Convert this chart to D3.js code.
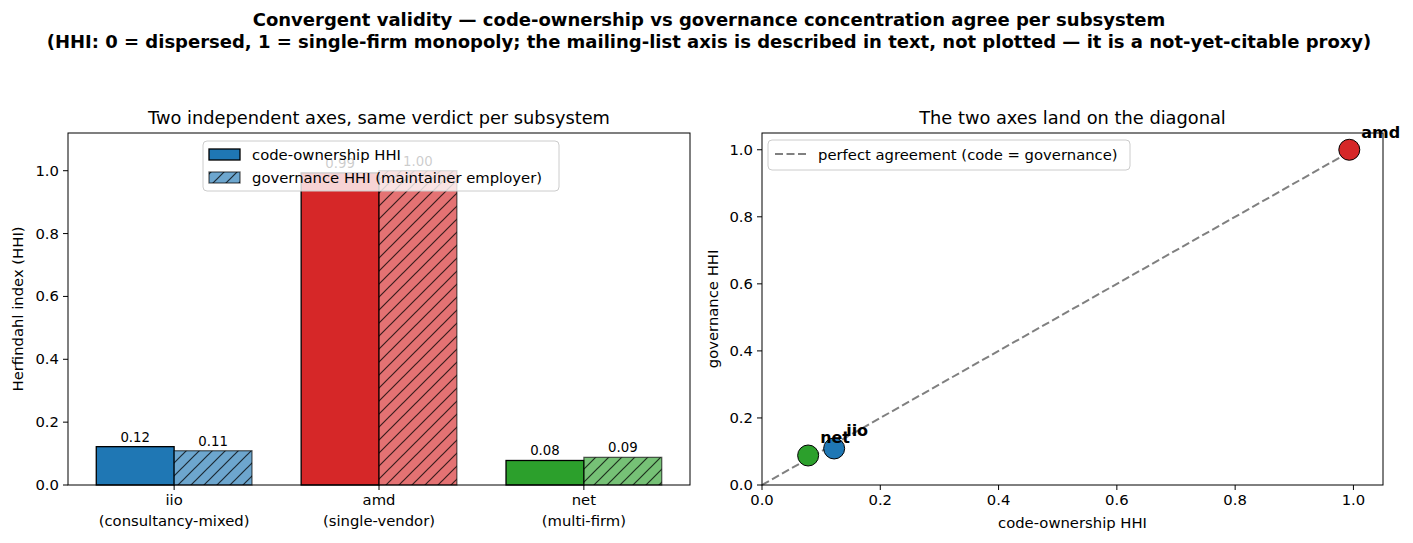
<!DOCTYPE html>
<html>
<head>
<meta charset="utf-8">
<script src="https://cdn.jsdelivr.net/npm/d3@7"></script>
<style>
  body { margin: 0; background: #fff; }
  svg text { font-family: "DejaVu Sans", sans-serif; fill: #000; }
</style>
</head>
<body>
<svg id="chart" width="1413" height="543"></svg>
<script>
// ---------------- DATA ----------------
const subsystems = ["iio", "amd", "net"];
const subsystemKinds = ["consultancy-mixed", "single-vendor", "multi-firm"];
const codeHHI = [0.122, 0.993, 0.078];
const govHHI = [0.109, 1.0, 0.088];
const subsystemColors = ["#1f77b4", "#d62728", "#2ca02c"];
const hhiTicks = [0, 0.2, 0.4, 0.6, 0.8, 1.0];

const svg = d3.select("#chart");
const fmt1 = d3.format(".1f");
const fmt2 = d3.format(".2f");
const TICK_FS = "14.8px";

// hatch patterns, one per colour
const defs = svg.append("defs");
subsystemColors.forEach((c, i) => {
  const p = defs.append("pattern")
    .attr("id", "hatch" + i)
    .attr("patternUnits", "userSpaceOnUse")
    .attr("width", 13).attr("height", 13);
  p.append("rect").attr("width", 13).attr("height", 13)
    .attr("fill", c).attr("fill-opacity", 0.65);
  p.append("path")
    .attr("d", "M-1,14 L14,-1 M-4,4 L4,-4 M9,17 L17,9")
    .attr("stroke", "#000").attr("stroke-opacity", 0.75).attr("stroke-width", 1.2);
});

// ---------------- TITLES ----------------
svg.append("text").attr("x", 709).attr("y", 26).attr("text-anchor", "middle")
  .style("font-size", "18px").style("font-weight", "bold")
  .text("Convergent validity \u2014 code-ownership vs governance concentration agree per subsystem");
svg.append("text").attr("x", 709).attr("y", 48).attr("text-anchor", "middle")
  .style("font-size", "18px").style("font-weight", "bold")
  .text("(HHI: 0 = dispersed, 1 = single-firm monopoly; the mailing-list axis is described in text, not plotted \u2014 it is a not-yet-citable proxy)");

// ---------------- LEFT: GROUPED BARS ----------------
const L = { left: 68, right: 690, top: 133, bottom: 485 };
const barW = 0.38;
const xBar = d3.scaleLinear().domain([-0.518, 2.518]).range([L.left, L.right]);
const yBar = d3.scaleLinear().domain([0, 1.12]).range([L.bottom, L.top]);

const gL = svg.append("g");
gL.append("text").attr("x", (L.left + L.right) / 2).attr("y", 124)
  .attr("text-anchor", "middle").style("font-size", "17.8px")
  .text("Two independent axes, same verdict per subsystem");

subsystems.forEach((s, i) => {
  // code-ownership bar
  gL.append("rect")
    .attr("x", xBar(i - barW)).attr("y", yBar(codeHHI[i]))
    .attr("width", xBar(barW) - xBar(0)).attr("height", yBar(0) - yBar(codeHHI[i]))
    .attr("fill", subsystemColors[i]).attr("stroke", "#000").attr("stroke-width", 1.3);
  // governance bar (hatched, lighter)
  gL.append("rect")
    .attr("x", xBar(i)).attr("y", yBar(govHHI[i]))
    .attr("width", xBar(barW) - xBar(0)).attr("height", yBar(0) - yBar(govHHI[i]))
    .attr("fill", `url(#hatch${i})`).attr("stroke", "#000").attr("stroke-opacity", 0.6).attr("stroke-width", 1.3);
  gL.append("text").attr("x", xBar(i - barW / 2)).attr("y", yBar(codeHHI[i]) - 5)
    .attr("text-anchor", "middle").style("font-size", "13.3px").text(fmt2(codeHHI[i]));
  gL.append("text").attr("x", xBar(i + barW / 2)).attr("y", yBar(govHHI[i]) - 5)
    .attr("text-anchor", "middle").style("font-size", "13.3px").text(fmt2(govHHI[i]));
});

// axes
const axL = gL.append("g");
axL.append("rect").attr("x", L.left).attr("y", L.top)
  .attr("width", L.right - L.left).attr("height", L.bottom - L.top)
  .attr("fill", "none").attr("stroke", "#000").attr("stroke-width", 1);
hhiTicks.forEach(t => {
  axL.append("line").attr("x1", L.left - 5).attr("x2", L.left)
    .attr("y1", yBar(t)).attr("y2", yBar(t)).attr("stroke", "#000");
  axL.append("text").attr("x", L.left - 9).attr("y", yBar(t) + 5)
    .attr("text-anchor", "end").style("font-size", TICK_FS).text(fmt1(t));
});
subsystems.forEach((s, i) => {
  axL.append("line").attr("x1", xBar(i)).attr("x2", xBar(i))
    .attr("y1", L.bottom).attr("y2", L.bottom + 5).attr("stroke", "#000");
  axL.append("text").attr("x", xBar(i)).attr("y", 505)
    .attr("text-anchor", "middle").style("font-size", TICK_FS).text(s);
  axL.append("text").attr("x", xBar(i)).attr("y", 526)
    .attr("text-anchor", "middle").style("font-size", TICK_FS).text(`(${subsystemKinds[i]})`);
});
axL.append("text").attr("transform", `translate(23,${(L.top + L.bottom) / 2}) rotate(-90)`)
  .attr("text-anchor", "middle").style("font-size", TICK_FS).text("Herfindahl index (HHI)");

// legend
const legL = gL.append("g").attr("transform", "translate(203,141)");
legL.append("rect").attr("width", 356).attr("height", 50).attr("rx", 4)
  .attr("fill", "#fff").attr("fill-opacity", 0.8).attr("stroke", "#cccccc");
legL.append("rect").attr("x", 6).attr("y", 8).attr("width", 31).attr("height", 11)
  .attr("fill", subsystemColors[0]).attr("stroke", "#000").attr("stroke-width", 1.3);
legL.append("text").attr("x", 49).attr("y", 18.5).style("font-size", TICK_FS).text("code-ownership HHI");
legL.append("rect").attr("x", 6).attr("y", 31).attr("width", 31).attr("height", 11)
  .attr("fill", "url(#hatch0)").attr("stroke", "#000").attr("stroke-opacity", 0.6).attr("stroke-width", 1.3);
legL.append("text").attr("x", 49).attr("y", 41.5).style("font-size", TICK_FS).text("governance HHI (maintainer employer)");

// ---------------- RIGHT: SCATTER ----------------
const R = { left: 762, right: 1383, top: 133, bottom: 485 };
const xS = d3.scaleLinear().domain([0, 1.05]).range([R.left, R.right]);
const yS = d3.scaleLinear().domain([0, 1.05]).range([R.bottom, R.top]);

const gR = svg.append("g");
gR.append("text").attr("x", (R.left + R.right) / 2).attr("y", 124)
  .attr("text-anchor", "middle").style("font-size", "17.8px")
  .text("The two axes land on the diagonal");

gR.append("line")
  .attr("x1", xS(0)).attr("y1", yS(0)).attr("x2", xS(1)).attr("y2", yS(1))
  .attr("stroke", "#808080").attr("stroke-width", 2).attr("stroke-dasharray", "8,3.5");

subsystems.forEach((s, i) => {
  gR.append("circle").attr("cx", xS(codeHHI[i])).attr("cy", yS(govHHI[i])).attr("r", 10.5)
    .attr("fill", subsystemColors[i]).attr("stroke", "#000").attr("stroke-width", 1);
});
subsystems.forEach((s, i) => {
  gR.append("text").attr("x", xS(codeHHI[i]) + 12).attr("y", yS(govHHI[i]) - 12)
    .style("font-size", "16px").style("font-weight", "bold").text(s);
});

const axR = gR.append("g");
axR.append("rect").attr("x", R.left).attr("y", R.top)
  .attr("width", R.right - R.left).attr("height", R.bottom - R.top)
  .attr("fill", "none").attr("stroke", "#000").attr("stroke-width", 1);
hhiTicks.forEach(t => {
  axR.append("line").attr("x1", R.left - 5).attr("x2", R.left)
    .attr("y1", yS(t)).attr("y2", yS(t)).attr("stroke", "#000");
  axR.append("text").attr("x", R.left - 9).attr("y", yS(t) + 5)
    .attr("text-anchor", "end").style("font-size", TICK_FS).text(fmt1(t));
  axR.append("line").attr("x1", xS(t)).attr("x2", xS(t))
    .attr("y1", R.bottom).attr("y2", R.bottom + 5).attr("stroke", "#000");
  axR.append("text").attr("x", xS(t)).attr("y", 505)
    .attr("text-anchor", "middle").style("font-size", TICK_FS).text(fmt1(t));
});
axR.append("text").attr("x", (R.left + R.right) / 2).attr("y", 528)
  .attr("text-anchor", "middle").style("font-size", TICK_FS).text("code-ownership HHI");
axR.append("text").attr("transform", `translate(718,${(R.top + R.bottom) / 2}) rotate(-90)`)
  .attr("text-anchor", "middle").style("font-size", TICK_FS).text("governance HHI");

const legR = gR.append("g").attr("transform", "translate(768,140)");
legR.append("rect").attr("width", 362).attr("height", 30).attr("rx", 4)
  .attr("fill", "#fff").attr("fill-opacity", 0.8).attr("stroke", "#cccccc");
legR.append("line").attr("x1", 7).attr("x2", 38).attr("y1", 14).attr("y2", 14)
  .attr("stroke", "#808080").attr("stroke-width", 2).attr("stroke-dasharray", "8,3.5");
legR.append("text").attr("x", 50).attr("y", 19.5).style("font-size", TICK_FS)
  .text("perfect agreement (code = governance)");
</script>
</body>
</html>
